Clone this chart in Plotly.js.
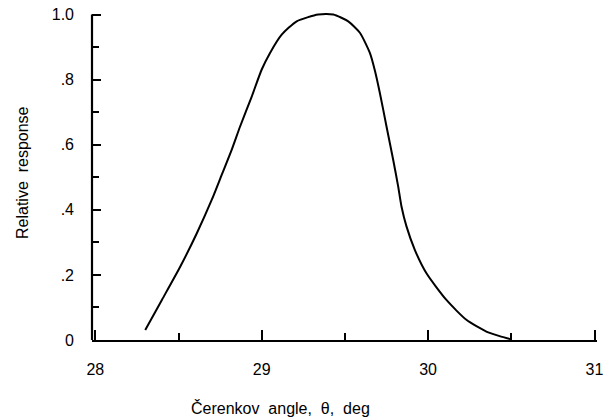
<!DOCTYPE html>
<html>
<head>
<meta charset="utf-8">
<script src="https://cdn.plot.ly/plotly-3.0.1.min.js"></script>
<style>html,body{margin:0;padding:0;background:#fff;}#chart{width:603px;height:420px;}</style>
</head>
<body>
<div id="chart"></div>
<script>
// Čerenkov angle (deg)
const angle = [28.30, 28.40, 28.51, 28.61, 28.70, 28.76, 28.82, 28.87, 28.94, 29.00,
               29.05, 29.12, 29.21, 29.34, 29.43, 29.52, 29.59, 29.65, 29.68, 29.71,
               29.75, 29.79, 29.82, 29.84, 29.87, 29.92, 29.99, 30.11, 30.23, 30.35,
               30.43, 30.50];
// Relative response
const response = [0.031, 0.123, 0.225, 0.328, 0.431, 0.508, 0.585, 0.656, 0.748, 0.831,
                  0.882, 0.938, 0.979, 1.000, 1.000, 0.979, 0.944, 0.882, 0.828, 0.759,
                  0.656, 0.554, 0.472, 0.410, 0.349, 0.277, 0.205, 0.123, 0.062, 0.026,
                  0.012, 0.002];
const xTickVals = [28, 29, 30, 31];
const xTickText = ['28', '29', '30', '31'];
const yTickVals = [0, 0.2, 0.4, 0.6, 0.8, 1.0];
const yTickText = ['0', '.2', '.4', '.6', '.8', '1.0'];

const FONT = '"Liberation Sans", Arial, sans-serif';

const data = [{
  x: angle, y: response, type: 'scatter', mode: 'lines',
  line: {color: '#000', width: 2, shape: 'spline', smoothing: 0.6},
  hoverinfo: 'skip'
}];

const layout = {
  width: 603, height: 420,
  margin: {l: 92, r: 6, t: 8, b: 80},
  paper_bgcolor: '#fff', plot_bgcolor: '#fff',
  showlegend: false,
  font: {family: FONT, color: '#000', size: 16},
  xaxis: {
    range: [27.98, 31.015], showgrid: false, zeroline: false,
    showline: true, linecolor: '#000', linewidth: 1.5,
    tickmode: 'array', tickvals: xTickVals, ticktext: xTickText,
    ticks: 'inside', ticklen: 10, tickwidth: 2, tickcolor: '#000',
    minor: {dtick: 0.5, tick0: 28, ticks: 'inside', ticklen: 7, tickwidth: 2, tickcolor: '#000', showgrid: false},
    tickfont: {family: FONT, size: 16, color: '#000'},
    ticklabelstandoff: 14,
    ticklabeloverflow: 'allow'
  },
  yaxis: {
    range: [0, 1.02], showgrid: false, zeroline: false,
    showline: false,
    tickmode: 'array', tickvals: yTickVals, ticktext: yTickText,
    ticks: 'inside', ticklen: 9, tickwidth: 2, tickcolor: '#000',
    minor: {dtick: 0.1, tick0: 0, ticks: 'inside', ticklen: 7, tickwidth: 2, tickcolor: '#000', showgrid: false},
    tickfont: {family: FONT, size: 16, color: '#000'},
    ticklabelstandoff: 17
  },
  shapes: [{
    type: 'line', xref: 'paper', yref: 'y', x0: 0, x1: 0, y0: 0, y1: 1.0,
    line: {color: '#000', width: 2.2}
  }],
  annotations: [
    {text: 'Čerenkov\u00A0 angle,\u00A0 θ,\u00A0 deg', xref: 'paper', yref: 'paper',
     x: (280 - 92) / 505, y: (340 - 408) / 332, xanchor: 'center', yanchor: 'middle',
     showarrow: false, font: {family: FONT, size: 16, color: '#000'}},
    {text: 'Relative\u00A0 response', xref: 'paper', yref: 'paper',
     x: (22 - 92) / 505, y: (340 - 173) / 332, xanchor: 'center', yanchor: 'middle',
     textangle: -90, showarrow: false, font: {family: FONT, size: 16, color: '#000'}}
  ]
};

Plotly.newPlot('chart', data, layout, {displayModeBar: false, staticPlot: true});
</script>
</body>
</html>
